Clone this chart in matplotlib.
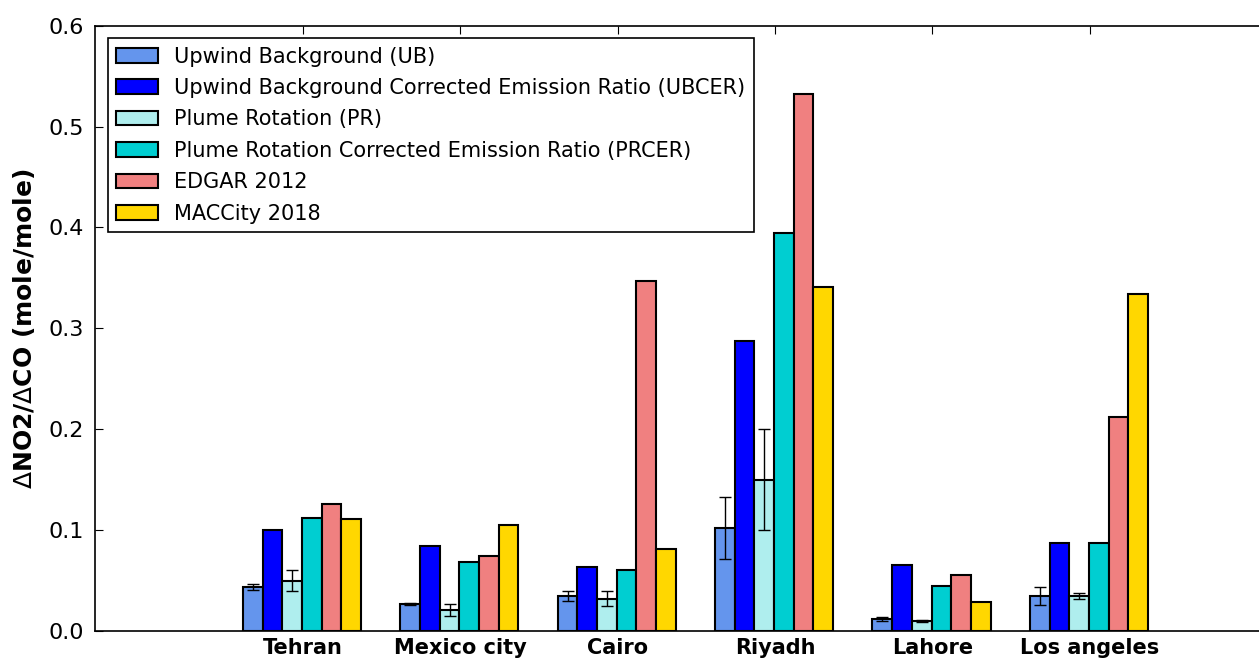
import numpy as np
import matplotlib
matplotlib.use("Agg")
import matplotlib.pyplot as plt

# values
cities = ["Tehran", "Mexico city", "Cairo", "Riyadh", "Lahore", "Los angeles"]

ub = [0.044, 0.027, 0.035, 0.102, 0.012, 0.035]
ub_err = [0.003, 0.001, 0.005, 0.031, 0.002, 0.009]
ubcer = [0.100, 0.084, 0.063, 0.287, 0.065, 0.087]
pr = [0.050, 0.021, 0.032, 0.150, 0.010, 0.035]
pr_err = [0.010, 0.006, 0.0075, 0.050, 0.001, 0.003]
prcer = [0.112, 0.068, 0.060, 0.395, 0.045, 0.087]
edgar = [0.126, 0.074, 0.347, 0.532, 0.055, 0.212]
maccity = [0.111, 0.105, 0.081, 0.341, 0.029, 0.334]

labels = ["Upwind Background (UB)",
          "Upwind Background Corrected Emission Ratio (UBCER)",
          "Plume Rotation (PR)",
          "Plume Rotation Corrected Emission Ratio (PRCER)",
          "EDGAR 2012",
          "MACCity 2018"]
colors = ["cornflowerblue", "blue", "paleturquoise", "darkturquoise", "lightcoral", "gold"]

series = [ub, ubcer, pr, prcer, edgar, maccity]
errors = [ub_err, None, pr_err, None, None, None]

fig = plt.figure(figsize=(12.59, 6.6), dpi=100)
ax = fig.add_axes([0.0755, 0.044, 0.93, 0.917])

x = np.arange(len(cities))
w = 0.125
for k in range(len(series)):
    pos = x - 0.38 + k * w
    ax.bar(pos, series[k], w, align="edge", color=colors[k], edgecolor="black",
           linewidth=1.5, label=labels[k])
    if errors[k] is not None:
        ax.errorbar(pos + w / 2, series[k], yerr=errors[k], fmt="none",
                    ecolor="black", elinewidth=1.0, capsize=4, capthick=1.0)

ax.set_xlim(-1.32, 6.12)
ax.set_ylim(0, 0.6)
ax.set_xticks(x)
ax.set_xticklabels(cities, fontsize=15, fontweight="bold")
ax.set_yticks(np.arange(0, 0.61, 0.1))
ax.set_yticklabels(["0.0", "0.1", "0.2", "0.3", "0.4", "0.5", "0.6"])
ax.tick_params(axis="y", direction="in", length=6, labelsize=16, pad=8, right=False)
ax.tick_params(axis="x", direction="in", length=6, top=True, bottom=False, pad=5)
for s in ax.spines.values():
    s.set_linewidth(1.2)

ax.set_ylabel(r"$\Delta$NO2/$\Delta$CO (mole/mole)", fontsize=18, fontweight="bold", labelpad=8)

leg = ax.legend(loc="upper left", fontsize=15, fancybox=False, framealpha=1,
                edgecolor="black", borderaxespad=0.6, handlelength=2.0,
                labelspacing=0.55, borderpad=0.4)
leg.get_frame().set_linewidth(1.2)

fig.savefig("out.png", dpi=100)
